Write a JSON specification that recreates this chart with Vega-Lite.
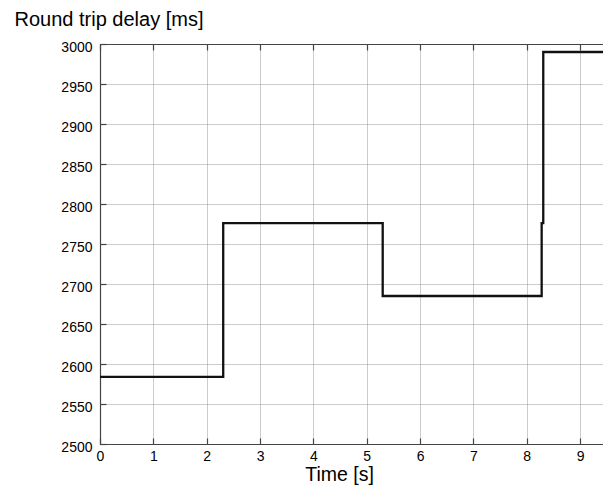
{
  "$schema": "https://vega.github.io/schema/vega-lite/v6.json",
  "autosize": {"type": "none"},
  "padding": {"left": 100, "top": 44, "right": 0, "bottom": 42},
  "width": 503,
  "height": 400,
  "background": "white",
  "config": {
    "view": {"stroke": null},
    "font": "Liberation Sans",
    "axis": {
      "labelFont": "Liberation Sans",
      "titleFont": "Liberation Sans",
      "labelColor": "#000",
      "titleColor": "#000",
      "labelFontSize": 14,
      "titleFontWeight": "normal",
      "domainColor": "#444",
      "domainWidth": 1.2,
      "tickColor": "#444",
      "tickWidth": 1.2,
      "gridColor": "#999",
      "gridDash": [1, 1],
      "gridWidth": 1,
      "gridOpacity": 1
    }
  },
  "data": {
    "values": [
      {"i": 0, "t": 0, "d": 2584},
      {"i": 1, "t": 2.31, "d": 2584},
      {"i": 2, "t": 2.31, "d": 2776},
      {"i": 3, "t": 5.3, "d": 2776},
      {"i": 4, "t": 5.3, "d": 2685},
      {"i": 5, "t": 8.28, "d": 2685},
      {"i": 6, "t": 8.28, "d": 2776},
      {"i": 7, "t": 8.31, "d": 2776},
      {"i": 8, "t": 8.31, "d": 2990},
      {"i": 9, "t": 9.43, "d": 2990}
    ]
  },
  "layer": [
    {
      "mark": {"type": "line", "color": "#111", "strokeWidth": 2.3, "clip": true},
      "encoding": {
        "order": {"field": "i"},
        "x": {
          "field": "t", "type": "quantitative",
          "scale": {"domain": [0, 9.43], "nice": false, "zero": false},
          "axis": {
            "values": [0, 1, 2, 3, 4, 5, 6, 7, 8, 9],
            "format": "d",
            "tickSize": -6, "labelPadding": 11, "labelBaseline": "top",
            "title": "Time [s]", "titleFontSize": 19.5,
            "titleX": 239, "titleY": 36, "titleAlign": "center", "titleBaseline": "alphabetic",
            "labelFlush": false
          }
        },
        "y": {
          "field": "d", "type": "quantitative",
          "scale": {"domain": [2500, 3000], "nice": false, "zero": false},
          "axis": {
            "values": [2500, 2550, 2600, 2650, 2700, 2750, 2800, 2850, 2900, 2950, 3000],
            "format": "d",
            "tickSize": -6, "labelPadding": 14, "labelOffset": 3,
            "labelFlush": false,
            "title": "Round trip delay [ms]", "titleFontSize": 20, "titleAngle": 0,
            "titleX": -86, "titleY": -19, "titleAlign": "left", "titleBaseline": "alphabetic"
          }
        }
      }
    },
    {
      "mark": {"type": "line", "opacity": 0},
      "encoding": {
        "order": {"field": "i"},
        "x": {
          "field": "t", "type": "quantitative",
          "scale": {"domain": [0, 9.43], "nice": false, "zero": false},
          "axis": {
            "orient": "top", "values": [0, 1, 2, 3, 4, 5, 6, 7, 8, 9],
            "labels": false, "grid": false, "tickSize": -6, "title": null
          }
        },
        "y": {"field": "d", "type": "quantitative", "axis": null}
      }
    }
  ],
  "resolve": {"axis": {"x": "independent", "y": "independent"}}
}
